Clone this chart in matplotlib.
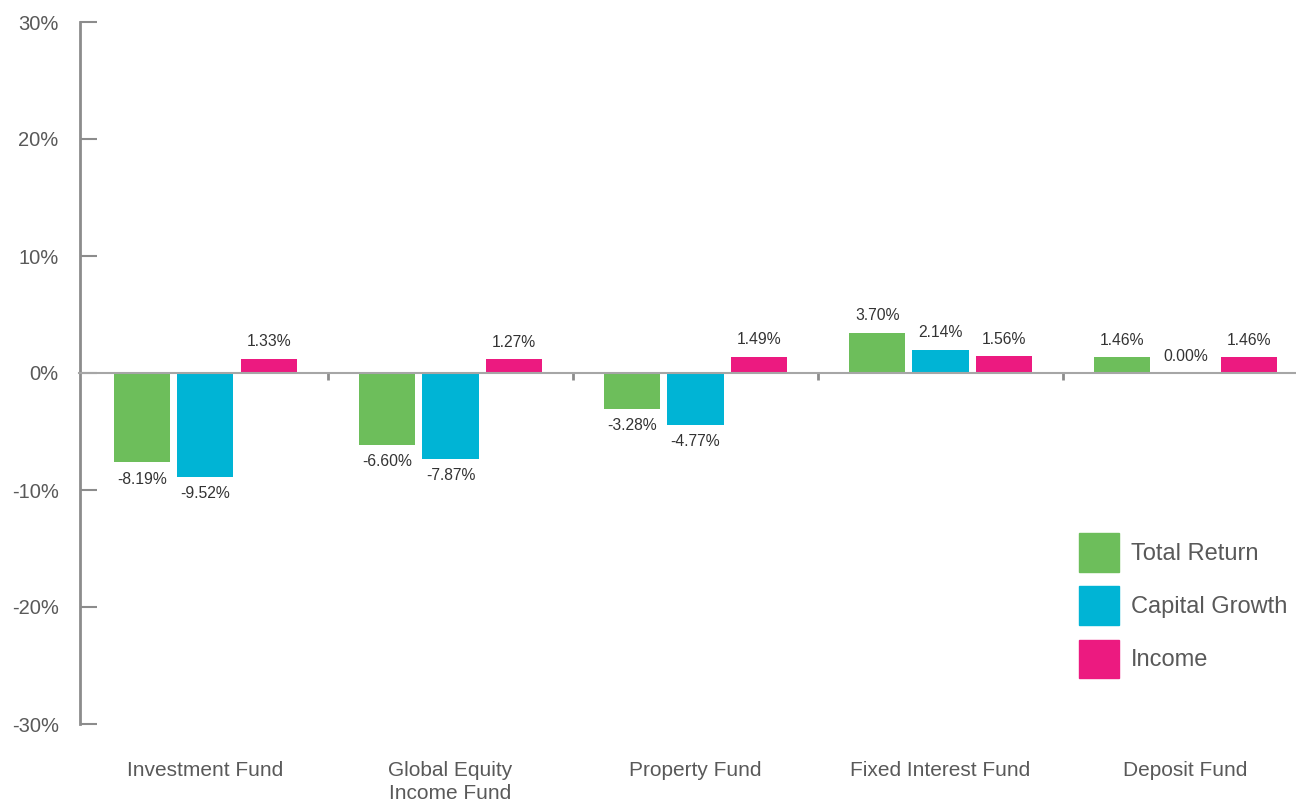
import numpy as np
import matplotlib.pyplot as plt
from matplotlib.patches import Patch

plt.rcParams['font.family'] = ['Liberation Sans', 'DejaVu Sans']

funds = ['Investment Fund', 'Global Equity\nIncome Fund', 'Property Fund',
         'Fixed Interest Fund', 'Deposit Fund']
series = ['Total Return', 'Capital Growth', 'Income']
total_return = [-8.19, -6.60, -3.28, 3.70, 1.46]
capital_growth = [-9.52, -7.87, -4.77, 2.14, 0.00]
income = [1.33, 1.27, 1.49, 1.56, 1.46]
colors = ['#6dbe5b', '#00b4d5', '#ec1a80']
y_ticks = [-30, -20, -10, 0, 10, 20, 30]

# the source chart's gridline spacing is a little wider than its bar scale
TICK_SCALE = 1.0734

fig = plt.figure(figsize=(12.96, 8.01), dpi=100)
ax = fig.add_axes([79.5 / 1296, 1 - 724 / 801, 1 - 79.5 / 1296, 702 / 801])

x = np.arange(len(funds))
width = 0.229
offset = 0.258
for k, (vals, col) in enumerate(zip([total_return, capital_growth, income], colors)):
    xs = x + (k - 1) * offset
    ax.bar(xs, vals, width=width, color=col, label=series[k], zorder=2)
    for xi, v in zip(xs, vals):
        dy = 12.2 if v >= 0 else -12.2
        ax.annotate(f'{v:.2f}%', (xi, v), xytext=(0, dy), textcoords='offset points',
                    ha='center', va='center', fontsize=11.3, color='#333333')

lim = 30 * TICK_SCALE
ax.set_ylim(-lim, lim)
ax.set_xlim(-0.514, 4.451)
ax.set_yticks([t * TICK_SCALE for t in y_ticks])
ax.set_yticklabels([f'{t}%' for t in y_ticks])
ax.tick_params(axis='y', direction='in', length=12, width=1.5, color='#8c8c8c',
               labelsize=14.5, labelcolor='#595959', pad=15)

ax.spines['top'].set_visible(False)
ax.spines['right'].set_visible(False)
ax.spines['left'].set_color('#8c8c8c')
ax.spines['left'].set_linewidth(2)
ax.spines['bottom'].set_position(('data', 0))
ax.spines['bottom'].set_color('#a6a6a6')
ax.spines['bottom'].set_linewidth(1.5)
ax.spines['bottom'].set_zorder(3)

ax.set_xticks(x[:-1] + 0.5)
ax.set_xticklabels([])
ax.tick_params(axis='x', direction='out', length=5, width=2, color='#8c8c8c')

for i, name in enumerate(funds):
    ax.annotate(name, (i, 0), xycoords=('data', 'axes fraction'), xytext=(0, -26.8),
                textcoords='offset points', ha='center', va='top', fontsize=15,
                color='#595959', linespacing=1.28, annotation_clip=False)

handles = [Patch(color=c) for c in colors]
fig.legend(handles, series, loc='upper left', bbox_to_anchor=(1079 / 1296, 1 - 533 / 801),
           frameon=False, fontsize=17, labelcolor='#595959', handlelength=1.7,
           handleheight=2.14, handletextpad=0.5, labelspacing=0.62, borderpad=0,
           borderaxespad=0)

fig.savefig('out.png', dpi=100)
